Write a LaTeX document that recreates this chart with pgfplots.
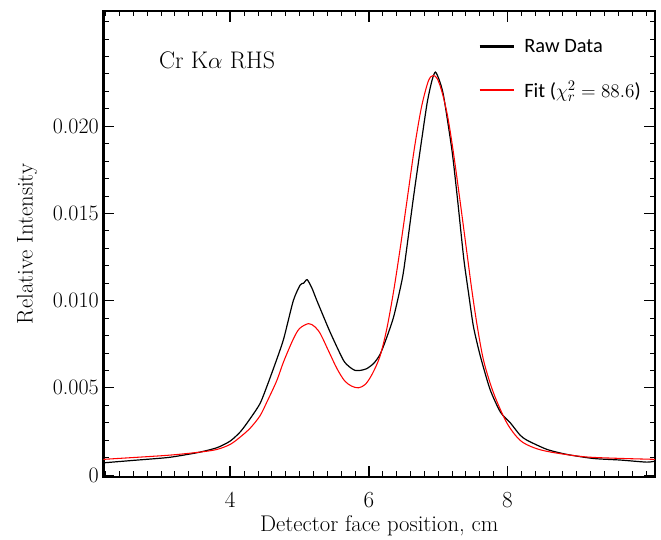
\documentclass[border=0pt]{standalone}
\usepackage{fontspec}
\usepackage{pgfplots}
\pgfplotsset{compat=1.18}
\newfontfamily\carlito{Carlito}
\begin{document}
\begin{tikzpicture}
\begin{axis}[
  name=ax,
  scale only axis,
  width=413.6pt, height=349.3pt,
  xmin=2.17, xmax=10.13,
  ymin=-0.0001, ymax=0.0266,
  axis line style={line width=1.8pt},
  xtick={4,6,8},
  minor xtick={2.2,2.4,2.6,2.8,3.0,3.2,3.4,3.6,3.8,4.2,4.4,4.6,4.8,5.0,5.2,5.4,5.6,5.8,6.2,6.4,6.6,6.8,7.0,7.2,7.4,7.6,7.8,8.2,8.4,8.6,8.8,9.0,9.2,9.4,9.6,9.8,10.0},
  ytick={0,0.005,0.010,0.015,0.020},
  yticklabels={0,0.005,0.010,0.015,0.020},
  minor ytick={0.001,0.002,0.003,0.004,0.006,0.007,0.008,0.009,0.011,0.012,0.013,0.014,0.016,0.017,0.018,0.019,0.021,0.022,0.023,0.024,0.025,0.026},
  scaled y ticks=false,
  tick align=inside,
  major tick length=8pt,
  minor tick length=4pt,
  every tick/.style={black, line width=0.6pt},
  major x tick style={line width=1.2pt},
  tick label style={font=\fontsize{16.5}{19}\selectfont},
  xticklabel style={yshift=-8pt},
  xlabel={Detector face position, cm},
  ylabel={Relative Intensity},
  every axis x label/.style={at={(axis description cs:0.5,-0.105)}, anchor=center, font=\fontsize{17}{20}\selectfont},
  every axis y label/.style={at={(axis description cs:-0.1387,0.5)}, rotate=90, anchor=center, font=\fontsize{17}{20}\selectfont},
  legend style={draw=none, fill=none, at={(axis description cs:0.679,0.946)}, anchor=north west,
    font=\carlito\fontsize{15.3}{18}\selectfont, row sep=16pt, inner sep=0pt,
    /tikz/every odd column/.append style={column sep=5pt}},
  legend cell align=left,
  legend image code/.code={\draw[#1, line width=2pt] (0cm,0cm) -- (0.9cm,0cm);},
]
\addplot[black, line width=0.9pt, smooth, tension=0.4] coordinates {
(2.17,0.00070) (2.6,0.00084) (3.09,0.00100) (3.38,0.00118) (3.57,0.00132) (3.81,0.00157)
(4.0,0.00195) (4.15,0.0025) (4.29,0.00325) (4.43,0.0041) (4.53,0.0051) (4.65,0.0064)
(4.77,0.0078) (4.91,0.0100) (5.01,0.0109) (5.06,0.0110) (5.11,0.0112) (5.18,0.0107)
(5.25,0.0100) (5.44,0.0082) (5.63,0.0066) (5.72,0.0062) (5.80,0.0060) (5.88,0.0060)
(5.97,0.0061) (6.07,0.0064) (6.16,0.0069) (6.25,0.0078) (6.36,0.0091) (6.48,0.0112)
(6.53,0.0125) (6.64,0.0158) (6.74,0.0186) (6.84,0.0213) (6.91,0.0226) (6.96,0.0231)
(7.02,0.0226) (7.08,0.0217) (7.2,0.0186) (7.28,0.0158) (7.37,0.0124) (7.44,0.0104)
(7.51,0.0085) (7.61,0.0068) (7.75,0.0049) (7.9,0.0036) (8.04,0.0030) (8.18,0.0023)
(8.28,0.0020) (8.57,0.00147) (8.86,0.00118) (9.24,0.00095) (9.63,0.00086) (10.01,0.00074)
(10.13,0.0008)
};
\addlegendentry{Raw Data}
\addplot[red, line width=0.8pt, smooth, tension=0.5] coordinates {
(2.17,0.0009) (3.09,0.00113) (3.57,0.00132) (3.81,0.00147) (4.0,0.00176) (4.15,0.0022)
(4.29,0.0027) (4.43,0.0034) (4.53,0.0042) (4.67,0.0054) (4.77,0.0065) (4.91,0.0078)
(5.0,0.0084) (5.13,0.00868) (5.22,0.0085) (5.3,0.0081) (5.42,0.0071) (5.54,0.0061)
(5.65,0.0054) (5.75,0.0051) (5.85,0.0050) (5.95,0.0052) (6.05,0.0058) (6.16,0.0068)
(6.26,0.0084) (6.36,0.0106) (6.46,0.0132) (6.56,0.0160) (6.66,0.0188) (6.76,0.0211)
(6.86,0.0226) (6.93,0.0229) (6.99,0.0227) (7.06,0.0219) (7.14,0.0205) (7.22,0.0185)
(7.31,0.0159) (7.41,0.0129) (7.49,0.0105) (7.57,0.0084) (7.66,0.0065) (7.80,0.0047)
(7.99,0.0030) (8.18,0.0020) (8.38,0.00157) (8.62,0.00132) (9.1,0.00105) (9.58,0.00096)
(10.13,0.0009)
};
\addlegendentry{Fit ($\chi_r^2 = 88.6$)}
\node[font=\fontsize{18}{21}\selectfont] at (axis cs:3.81,0.0238) {Cr K$\alpha$ RHS};
\end{axis}
\pgfresetboundingbox
\path[use as bounding box] ([shift={(-77.6pt,-46.7pt)}]ax.south west) rectangle ([shift={(4.5pt,8.25pt)}]ax.north east);
\end{tikzpicture}
\end{document}
